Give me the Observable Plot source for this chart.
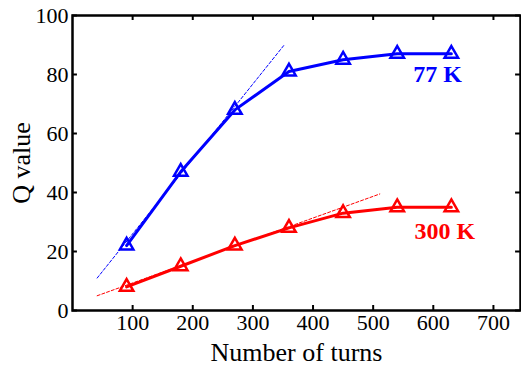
<!DOCTYPE html>
<html><head><meta charset="utf-8">
<script src="https://cdn.jsdelivr.net/npm/d3@7"></script>
<script src="https://cdn.jsdelivr.net/npm/@observablehq/plot@0.6"></script>
<style>
body{margin:0;background:#fff;} svg{display:block;}
g[aria-label="x-axis tick label"] text, g[aria-label="y-axis tick label"] text {font-size:22px !important;}
g[aria-label="x-axis label"] text, g[aria-label="y-axis label"] text {font-size:26px !important;}
</style>
</head><body><div id="chart"></div>
<script>
const turns = [90, 180, 270, 360, 450, 540, 630];
const q77 = [22, 47, 68, 81, 85, 87, 87];
const q300 = [8, 15, 22, 28, 33, 35, 35];
const fit77 = [{x: 41, y: 11}, {x: 352, y: 90}];
const fit300 = [{x: 41, y: 5}, {x: 511, y: 39.5}];
const xTicks = [100, 200, 300, 400, 500, 600, 700];
const yTicks = [0, 20, 40, 60, 80, 100];
const labels = [{x: 607, y: 80, text: "77 K", c: "#0000ff"}, {x: 619, y: 27, text: "300 K", c: "#ff0000"}];

const s77 = turns.map((t, i) => ({x: t, y: q77[i]}));
const s300 = turns.map((t, i) => ({x: t, y: q300[i]}));
const xMax = 745, yMax = 100;
const tx = xMax * 0.011, ty = yMax * 0.017;

const chart = Plot.plot({
  width: 521, height: 366,
  marginLeft: 72, marginRight: 1, marginTop: 15, marginBottom: 56,
  style: {fontFamily: "Liberation Serif, Times New Roman, serif", fontSize: "22px", color: "#000", background: "#fff"},
  x: {domain: [0, xMax]},
  y: {domain: [0, yMax]},
  marks: [
    Plot.line(fit77, {x: "x", y: "y", stroke: "#0000ff", strokeWidth: 1, strokeDasharray: "3,2"}),
    Plot.line(fit300, {x: "x", y: "y", stroke: "#ff0000", strokeWidth: 1, strokeDasharray: "3,2"}),
    Plot.line(s77, {x: "x", y: "y", stroke: "#0000ff", strokeWidth: 3}),
    Plot.line(s300, {x: "x", y: "y", stroke: "#ff0000", strokeWidth: 3}),
    Plot.dot(s77, {x: "x", y: "y", symbol: "triangle", r: 5, stroke: "#0000ff", strokeWidth: 2.5, fill: "none"}),
    Plot.dot(s300, {x: "x", y: "y", symbol: "triangle", r: 5, stroke: "#ff0000", strokeWidth: 2.5, fill: "none"}),
    Plot.text(labels, {x: "x", y: "y", text: "text", fill: "c", fontWeight: "bold", fontSize: 24}),
    Plot.ruleX(xTicks, {x: d => d, y1: 0, y2: ty, stroke: "#000", strokeWidth: 2}),
    Plot.ruleX(xTicks, {x: d => d, y1: yMax, y2: yMax - ty, stroke: "#000", strokeWidth: 2}),
    Plot.ruleY(yTicks, {y: d => d, x1: 0, x2: tx, stroke: "#000", strokeWidth: 2}),
    Plot.ruleY(yTicks, {y: d => d, x1: xMax, x2: xMax - tx, stroke: "#000", strokeWidth: 2}),
    Plot.frame({stroke: "#000", strokeWidth: 2.5}),
    Plot.axisX(xTicks, {tickSize: 0, tickPadding: 4, label: "Number of turns", labelAnchor: "center", labelArrow: "none", labelOffset: 50}),
    Plot.axisY(yTicks, {tickSize: 0, tickPadding: 4, label: "Q value", labelAnchor: "center", labelArrow: "none", labelOffset: 61})
  ]
});
document.getElementById("chart").appendChild(chart);
</script></body></html>
